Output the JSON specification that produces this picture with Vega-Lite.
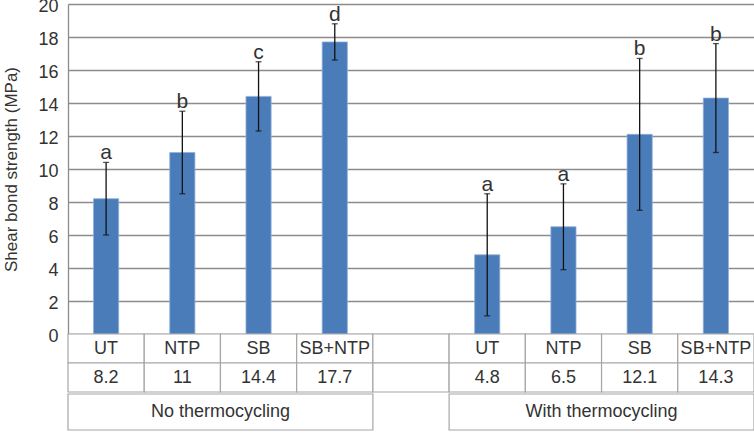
{
  "$schema": "https://vega.github.io/schema/vega-lite/v6.json",
  "padding": {"left": 2, "top": -3, "right": 0, "bottom": 0},
  "spacing": 0,
  "bounds": "flush",
  "config": {
    "view": {"stroke": null},
    "font": "Liberation Sans",
    "text": {"font": "Liberation Sans"},
    "axisY": {
      "tickCount": 10,
      "labelOverlap": false,
      "grid": true,
      "gridColor": "#8c8c8c",
      "gridWidth": 1.3,
      "domain": true,
      "domainColor": "#8c8c8c",
      "domainWidth": 1.3,
      "ticks": false,
      "labelFont": "Liberation Sans",
      "labelFontSize": 18,
      "labelColor": "#333333",
      "labelPadding": 10,
      "labelOffset": 2,
      "titleFont": "Liberation Sans",
      "titleFontSize": 17,
      "titleFontWeight": "normal",
      "titleColor": "#333333",
      "titlePadding": 17
    }
  },
  "resolve": {"scale": {"x": "independent", "y": "independent"}},
  "datasets": {
    "bars": [
      {"slot": "No|UT", "mean": 8.2, "lo": 6.0, "hi": 10.4, "letter": "a"},
      {"slot": "No|NTP", "mean": 11, "lo": 8.5, "hi": 13.5, "letter": "b"},
      {"slot": "No|SB", "mean": 14.4, "lo": 12.3, "hi": 16.5, "letter": "c"},
      {"slot": "No|SB+NTP", "mean": 17.7, "lo": 16.6, "hi": 18.8, "letter": "d"},
      {"slot": "With|UT", "mean": 4.8, "lo": 1.1, "hi": 8.5, "letter": "a"},
      {"slot": "With|NTP", "mean": 6.5, "lo": 3.9, "hi": 9.1, "letter": "a"},
      {"slot": "With|SB", "mean": 12.1, "lo": 7.5, "hi": 16.7, "letter": "b"},
      {"slot": "With|SB+NTP", "mean": 14.3, "lo": 11.0, "hi": 17.6, "letter": "b"}
    ],
    "cells": [
      {"slot": "No|UT", "row": "label", "text": "UT"},
      {"slot": "No|NTP", "row": "label", "text": "NTP"},
      {"slot": "No|SB", "row": "label", "text": "SB"},
      {"slot": "No|SB+NTP", "row": "label", "text": "SB+NTP"},
      {"slot": "gap", "row": "label", "text": ""},
      {"slot": "With|UT", "row": "label", "text": "UT"},
      {"slot": "With|NTP", "row": "label", "text": "NTP"},
      {"slot": "With|SB", "row": "label", "text": "SB"},
      {"slot": "With|SB+NTP", "row": "label", "text": "SB+NTP"},
      {"slot": "No|UT", "row": "value", "text": "8.2"},
      {"slot": "No|NTP", "row": "value", "text": "11"},
      {"slot": "No|SB", "row": "value", "text": "14.4"},
      {"slot": "No|SB+NTP", "row": "value", "text": "17.7"},
      {"slot": "gap", "row": "value", "text": ""},
      {"slot": "With|UT", "row": "value", "text": "4.8"},
      {"slot": "With|NTP", "row": "value", "text": "6.5"},
      {"slot": "With|SB", "row": "value", "text": "12.1"},
      {"slot": "With|SB+NTP", "row": "value", "text": "14.3"}
    ],
    "groups": [
      {"group": "No thermocycling"},
      {"group": "With thermocycling"}
    ]
  },
  "vconcat": [
    {
      "width": 686,
      "height": 330,
      "data": {"name": "bars"},
      "encoding": {
        "x": {
          "field": "slot",
          "type": "nominal",
          "sort": null,
          "scale": {
            "domain": ["No|UT", "No|NTP", "No|SB", "No|SB+NTP", "gap", "With|UT", "With|NTP", "With|SB", "With|SB+NTP"],
            "paddingInner": 0,
            "paddingOuter": 0
          },
          "axis": null
        }
      },
      "layer": [
        {
          "mark": {"type": "bar", "color": "#4A7CB9", "stroke": "#8FB0D8", "strokeWidth": 0.8, "width": {"band": 0.33}},
          "encoding": {
            "y": {
              "field": "mean",
              "type": "quantitative",
              "title": "Shear bond strength (MPa)",
              "scale": {"domain": [0, 20], "nice": false}
            }
          }
        },
        {
          "mark": {"type": "rule", "color": "#111111", "strokeWidth": 1.3},
          "encoding": {
            "y": {"field": "lo", "type": "quantitative", "title": "Shear bond strength (MPa)"},
            "y2": {"field": "hi"}
          }
        },
        {
          "mark": {"type": "tick", "color": "#111111", "thickness": 1.3, "size": 6, "orient": "horizontal"},
          "encoding": {"y": {"field": "hi", "type": "quantitative", "title": "Shear bond strength (MPa)"}}
        },
        {
          "mark": {"type": "tick", "color": "#111111", "thickness": 1.3, "size": 6, "orient": "horizontal"},
          "encoding": {"y": {"field": "lo", "type": "quantitative", "title": "Shear bond strength (MPa)"}}
        },
        {
          "mark": {"type": "text", "fontSize": 21, "color": "#333333", "baseline": "alphabetic", "dy": -3},
          "encoding": {
            "y": {"field": "hi", "type": "quantitative", "title": "Shear bond strength (MPa)"},
            "text": {"field": "letter"}
          }
        }
      ]
    },
    {
      "width": 686,
      "height": 58,
      "data": {"name": "cells"},
      "encoding": {
        "x": {
          "field": "slot",
          "type": "nominal",
          "sort": null,
          "scale": {
            "domain": ["No|UT", "No|NTP", "No|SB", "No|SB+NTP", "gap", "With|UT", "With|NTP", "With|SB", "With|SB+NTP"],
            "paddingInner": 0,
            "paddingOuter": 0
          },
          "axis": null
        },
        "y": {
          "field": "row",
          "type": "nominal",
          "sort": null,
          "scale": {"domain": ["label", "value"], "paddingInner": 0, "paddingOuter": 0},
          "axis": null
        }
      },
      "layer": [
        {
          "mark": {"type": "rect", "fill": "#ffffff", "stroke": "#a6a6a6", "strokeWidth": 1.2}
        },
        {
          "mark": {"type": "text", "fontSize": 18, "color": "#333333", "baseline": "middle"},
          "encoding": {"text": {"field": "text"}}
        }
      ]
    },
    {
      "width": 686,
      "height": 38,
      "data": {"name": "groups"},
      "encoding": {
        "x": {
          "field": "group",
          "type": "nominal",
          "sort": null,
          "scale": {"domain": ["No thermocycling", "With thermocycling"], "paddingInner": 0.2, "paddingOuter": 0},
          "axis": null
        },
        "y": {
          "datum": "g",
          "type": "nominal",
          "scale": {"domain": ["g"], "paddingInner": 0, "paddingOuter": 0.02778, "align": 1},
          "axis": null
        }
      },
      "layer": [
        {
          "mark": {"type": "rect", "fill": "#ffffff", "stroke": "#a6a6a6", "strokeWidth": 1.2}
        },
        {
          "mark": {"type": "text", "fontSize": 18, "color": "#333333", "baseline": "middle"},
          "encoding": {"text": {"field": "group"}}
        }
      ]
    }
  ]
}
